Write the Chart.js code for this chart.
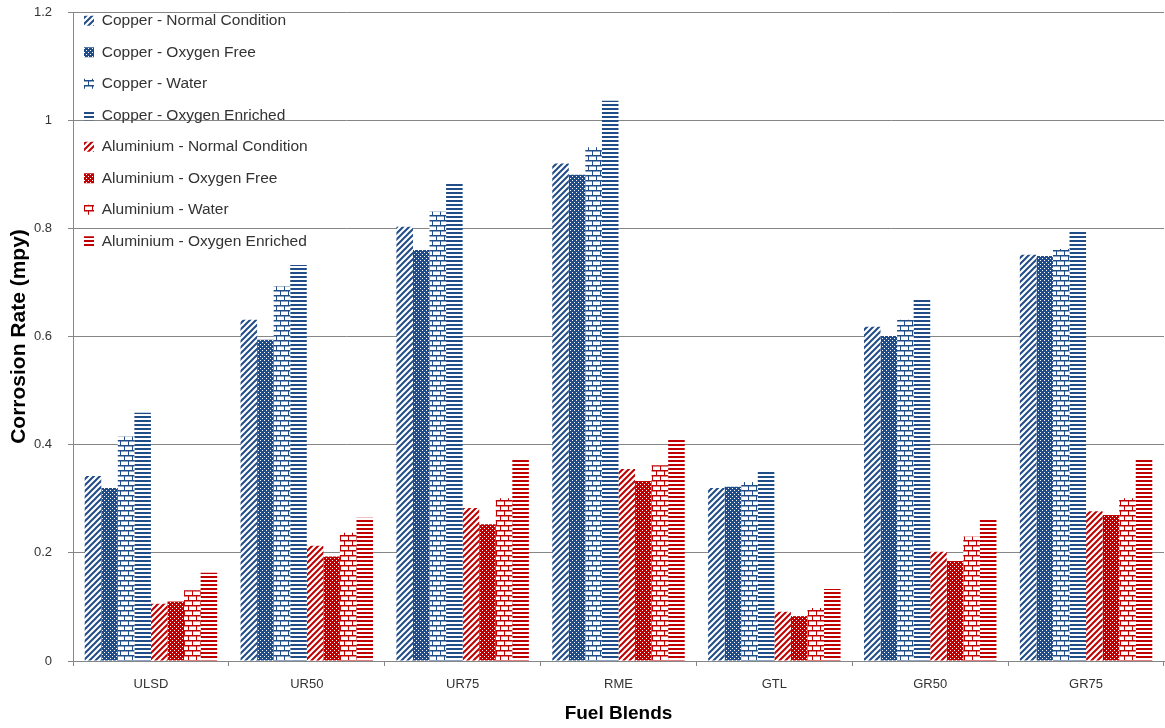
<!DOCTYPE html>
<html lang="en">
<head>
<meta charset="UTF-8">
<title>Corrosion Rate</title>
<style>
  html, body { margin: 0; padding: 0; background: #fff; }
  #chartBox { width: 1165px; height: 728px; }
</style>
</head>
<body>
<div id="chartBox"><canvas id="myChart" width="1165" height="728"></canvas></div>

<script src="https://cdn.jsdelivr.net/npm/chart.js"></script>
<script>
// data
const fuelBlends = ['ULSD', 'UR50', 'UR75', 'RME', 'GTL', 'GR50', 'GR75'];

const copperNormal   = [0.342, 0.631, 0.803, 0.920, 0.320, 0.618, 0.751];
const copperOxFree   = [0.320, 0.594, 0.760, 0.899, 0.322, 0.601, 0.749];
const copperWater    = [0.415, 0.693, 0.831, 0.950, 0.331, 0.631, 0.762];
const copperOxEnr    = [0.459, 0.732, 0.882, 1.036, 0.352, 0.669, 0.797];
const alumNormal     = [0.106, 0.213, 0.283, 0.355, 0.091, 0.202, 0.277];
const alumOxFree     = [0.110, 0.193, 0.253, 0.333, 0.083, 0.185, 0.270];
const alumWater      = [0.131, 0.237, 0.301, 0.362, 0.098, 0.230, 0.301];
const alumOxEnr      = [0.163, 0.265, 0.372, 0.412, 0.133, 0.263, 0.372];

const yTicks = [0, 0.2, 0.4, 0.6, 0.8, 1, 1.2];

const blue = '#204c88';
const red = '#c00000';

// hatch fills like the excel ones
function makePattern(color, kind) {
  var c = document.createElement('canvas');
  var g = c.getContext('2d');
  if (kind == 'diag') {
    c.width = 6; c.height = 6;
    g.fillStyle = '#fff'; g.fillRect(0, 0, 6, 6);
    g.strokeStyle = color; g.lineWidth = 2;
    g.beginPath();
    g.moveTo(-2, 8); g.lineTo(8, -2);
    g.moveTo(-2, 2); g.lineTo(2, -2);
    g.moveTo(4, 8); g.lineTo(8, 4);
    g.stroke();
  } else if (kind == 'dots') {
    c.width = 4; c.height = 4;
    g.fillStyle = color; g.fillRect(0, 0, 4, 4);
    g.fillStyle = '#fff';
    g.fillRect(0, 0, 1, 1);
    g.fillRect(2, 2, 1, 1);
  } else if (kind == 'brick') {
    c.width = 8; c.height = 10;
    g.fillStyle = '#fff'; g.fillRect(0, 0, 8, 10);
    g.fillStyle = color;
    g.fillRect(0, 0, 8, 1);
    g.fillRect(0, 5, 8, 1);
    g.fillRect(0, 1, 1, 4);
    g.fillRect(4, 6, 1, 4);
    g.globalAlpha = 0.5;
    g.fillRect(0, 1, 8, 1);
    g.fillRect(0, 6, 8, 1);
  } else {
    c.width = 4; c.height = 4;
    g.fillStyle = '#fff'; g.fillRect(0, 0, 4, 4);
    g.fillStyle = color;
    g.fillRect(0, 0, 4, 2);
  }
  return g.createPattern(c, 'repeat');
}

function serie(label, data, color, kind) {
  return {
    label: label,
    data: data,
    backgroundColor: makePattern(color, kind),
    borderWidth: 0,
    categoryPercentage: 0.85,
    barPercentage: 1.0
  };
}

// legend sits inside the plot, nudge it into place
const legendShift = {
  id: 'legendShift',
  afterLayout(chart) {
    var lg = chart.legend;
    if (lg) {
      lg.top -= 3; lg.bottom -= 3;
      lg.left -= 5; lg.right -= 5;
    }
  }
};

const ctx = document.getElementById('myChart');

const Grafico = new Chart(ctx, {
  type: 'bar',
  data: {
    labels: fuelBlends,
    datasets: [
      serie('Copper - Normal Condition', copperNormal, blue, 'diag'),
      serie('Copper - Oxygen Free', copperOxFree, blue, 'dots'),
      serie('Copper - Water', copperWater, blue, 'brick'),
      serie('Copper - Oxygen Enriched', copperOxEnr, blue, 'lines'),
      serie('Aluminium - Normal Condition', alumNormal, red, 'diag'),
      serie('Aluminium - Oxygen Free', alumOxFree, red, 'dots'),
      serie('Aluminium - Water', alumWater, red, 'brick'),
      serie('Aluminium - Oxygen Enriched', alumOxEnr, red, 'lines')
    ]
  },
  options: {
    responsive: false,
    animation: false,
    layout: { padding: { top: 12, right: 1, left: 0, bottom: 0 } },
    plugins: {
      tooltip: { enabled: false },
      legend: {
        position: 'chartArea',
        align: 'start',
        labels: {
          boxWidth: 10,
          boxHeight: 10,
          padding: 16,
          color: '#333',
          font: { family: 'Liberation Sans', size: 15.5 }
        }
      }
    },
    scales: {
      x: {
        afterFit(axis) { axis.height = 67; },
        grid: {
          display: true,
          drawOnChartArea: false,
          tickLength: 5,
          color: '#868686'
        },
        border: { display: true, color: '#868686' },
        ticks: {
          color: '#333',
          padding: 11,
          font: { family: 'Liberation Sans', size: 13 }
        },
        title: {
          display: true,
          text: 'Fuel Blends',
          color: '#000',
          padding: { top: 10, bottom: 3 },
          font: { family: 'Liberation Sans', size: 19, weight: 'bold' }
        }
      },
      y: {
        min: 0,
        max: 1.2,
        afterFit(axis) {
          axis.width = 73;
          axis.paddingTop = 0;
        },
        afterBuildTicks(axis) {
          axis.ticks = yTicks.map(v => ({ value: v }));
        },
        grid: {
          color: '#868686',
          tickLength: 5
        },
        border: { display: true, color: '#868686' },
        ticks: {
          color: '#333',
          padding: 16,
          font: { family: 'Liberation Sans', size: 13 },
          callback: v => String(Math.round(v * 10) / 10)
        },
        title: {
          display: true,
          text: 'Corrosion Rate (mpy)',
          color: '#000',
          padding: { top: 7, bottom: 0 },
          font: { family: 'Liberation Sans', size: 21, weight: 'bold' }
        }
      }
    }
  },
  plugins: [legendShift]
});
</script>
</body>
</html>
